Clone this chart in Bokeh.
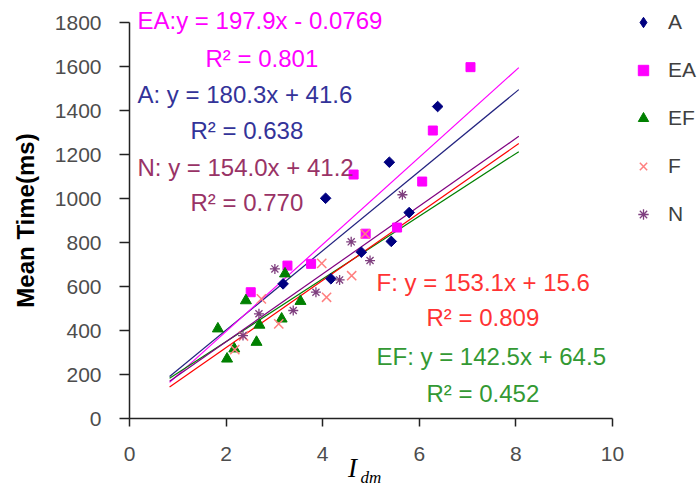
import math
from bokeh.plotting import figure
from bokeh.models import Label, Legend, LegendItem, Range1d
from bokeh.embed import file_html
from bokeh.resources import INLINE

# ---- data ----
series = ["A", "EA", "EF", "F", "N"]

A_x = [3.18, 4.06, 4.17, 4.80, 5.38, 5.42, 5.79, 6.38]
A_y = [612, 1001, 635, 756, 1165, 805, 936, 1418]

EA_x = [2.51, 3.27, 3.76, 4.64, 4.89, 5.54, 6.06, 6.28, 7.06]
EA_y = [574, 695, 703, 1109, 840, 868, 1077, 1309, 1597]

EF_x = [1.83, 2.02, 2.17, 2.41, 2.63, 2.69, 3.15, 3.22, 3.54]
EF_y = [408, 271, 317, 536, 347, 425, 453, 658, 533]

F_x = [2.18, 2.36, 2.73, 3.09, 3.98, 4.08, 4.60, 4.88]
F_y = [313, 375, 544, 430, 705, 551, 649, 839]

N_x = [2.35, 2.68, 3.01, 3.39, 3.86, 4.35, 4.59, 4.98, 5.65]
N_y = [377, 476, 680, 491, 574, 630, 803, 718, 1017]

# trendline fits (slope, intercept) and R^2 shown on the chart
slopes = {"A": 180.3, "EA": 197.9, "EF": 142.5, "F": 153.1, "N": 154.0}
intercepts = {"A": 41.6, "EA": -0.0769, "EF": 64.5, "F": 15.6, "N": 41.2}
r2 = {"A": 0.638, "EA": 0.801, "EF": 0.452, "F": 0.809, "N": 0.770}
trend_x = [0.83, 8.06]

x_ticks = [0, 2, 4, 6, 8, 10]
y_ticks = [0, 200, 400, 600, 800, 1000, 1200, 1400, 1600, 1800]
x_bounds = (0, 10)
y_bounds = (0, 1800)

# ---- styles ----
marker_color = {"A": "#000080", "EA": "#FF00FF", "EF": "#008000", "F": "#FF7F7F", "N": "#7F3F7F"}
line_color = {"A": "#22227F", "EA": "#FF00FF", "EF": "#008000", "F": "#FF0000", "N": "#800080"}
text_color = {"A": "#333399", "EA": "#FF00FF", "EF": "#339933", "F": "#FF3333", "N": "#993366"}

FONT = "Liberation Sans"
W, H = 700, 488
X0_PX, X_SCALE = 129, 48.3     # page px of x=0, px per x unit
Y0_PX, Y_SCALE = 418, 0.22     # page px of y=0, px per y unit

x_range = Range1d(-X0_PX / X_SCALE, (W - X0_PX) / X_SCALE)
y_range = Range1d(-(H - Y0_PX) / Y_SCALE, Y0_PX / Y_SCALE)

p = figure(width=W, height=H, output_backend="svg", toolbar_location=None,
           title=None, x_range=x_range, y_range=y_range,
           min_border_left=0, min_border_right=0, min_border_top=0,
           min_border_bottom=0)
p.outline_line_color = None
p.xgrid.visible = False
p.ygrid.visible = False
p.background_fill_color = "white"

p.xaxis.fixed_location = 0
p.yaxis.fixed_location = 0
p.xaxis.bounds = x_bounds
p.yaxis.bounds = y_bounds

for ax in (p.xaxis, p.yaxis):
    ax.axis_line_color = "#222222"
    ax.axis_line_width = 1.5
    ax.major_tick_line_color = "#222222"
    ax.major_tick_line_width = 1.5
    ax.major_tick_in = 0
    ax.minor_tick_line_color = None
    ax.major_label_text_font = FONT
    ax.major_label_text_font_size = "21px"
    ax.major_label_text_color = "#4D4D4D"

p.xaxis.ticker = x_ticks
p.yaxis.ticker = y_ticks
p.xaxis.major_tick_out = 8
p.yaxis.major_tick_out = 10
p.xaxis.major_label_standoff = 20
p.yaxis.major_label_standoff = 18

p.yaxis.axis_label = "Mean Time(ms)"
p.yaxis.axis_label_text_font = FONT
p.yaxis.axis_label_text_font_style = "bold"
p.yaxis.axis_label_text_font_size = "24px"
p.yaxis.axis_label_text_color = "#000000"
p.yaxis.axis_label_standoff = 13

# trendlines
for s in series:
    ys = [slopes[s] * xv + intercepts[s] for xv in trend_x]
    p.line(trend_x, ys, line_color=line_color[s], line_width=1.2)

# markers
rA = p.scatter(A_x, A_y, marker="square", size=7.5, angle=math.pi / 4, color=marker_color["A"])
rEA = p.scatter(EA_x, EA_y, marker="square", size=9, color=marker_color["EA"])
rEF = p.scatter(EF_x, EF_y, marker="triangle", size=11, color=marker_color["EF"])
rF = p.scatter(F_x, F_y, marker="x", size=13, line_color=marker_color["F"], line_width=1.5)
rN = p.scatter(N_x, N_y, marker="asterisk", size=10, line_color=marker_color["N"], line_width=1.3)

# legend swatch for A: a diamond (the legend does not rotate markers); hidden in the plot
rA_key = p.scatter(A_x, A_y, marker="diamond", size=10, color=marker_color["A"], visible=False)

renderers = {"A": rA_key, "EA": rEA, "EF": rEF, "F": rF, "N": rN}
legend = Legend(items=[LegendItem(label=s, renderers=[renderers[s]]) for s in series],
                location=(630, 261), orientation="vertical",
                glyph_width=26, glyph_height=26, label_height=26, spacing=22,
                padding=0, margin=0, label_standoff=12,
                label_text_font=FONT, label_text_font_size="21px",
                label_text_color="#404040",
                inactive_fill_alpha=0,
                border_line_color=None, background_fill_alpha=0)
p.add_layout(legend)


# annotation positions (page pixels -> data)
def dx(px):
    return (px - X0_PX) / X_SCALE


def dy(py):
    return (Y0_PX - py) / Y_SCALE


def fmt_eq(s):
    b = intercepts[s]
    sign = "-" if b < 0 else "+"
    bs = f"{abs(b):.4f}".rstrip("0") if abs(b) < 1 else f"{abs(b):.1f}"
    prefix = "EA:y" if s == "EA" else f"{s}: y"
    return f"{prefix} = {slopes[s]:.1f}x {sign} {bs}"


text_pos = {
    "EA": ((137, 20), (205, 58)),
    "A": ((137, 94), (190, 130)),
    "N": ((137, 167), (190, 202)),
    "F": ((376, 282), (426, 317)),
    "EF": ((376, 356), (426, 393)),
}
for s, ((ex, ey), (rx, ry)) in text_pos.items():
    p.add_layout(Label(x=dx(ex), y=dy(ey), text=fmt_eq(s), text_font=FONT,
                       text_font_size="24px", text_color=text_color[s],
                       text_baseline="middle", text_align="left"))
    p.add_layout(Label(x=dx(rx), y=dy(ry), text=f"R\u00b2 = {r2[s]:.3f}", text_font=FONT,
                       text_font_size="24px", text_color=text_color[s],
                       text_baseline="middle", text_align="left"))

# x axis title: I with subscript dm
p.add_layout(Label(x=dx(352), y=dy(467), text="I", text_font="Liberation Serif",
                   text_font_style="italic", text_font_size="27px", text_color="#000000",
                   text_baseline="middle", text_align="center"))
p.add_layout(Label(x=dx(360), y=dy(477), text="dm", text_font="Liberation Serif",
                   text_font_style="italic", text_font_size="17px", text_color="#000000",
                   text_baseline="alphabetic", text_align="left"))

open("out.html", "w").write(file_html(p, INLINE))
